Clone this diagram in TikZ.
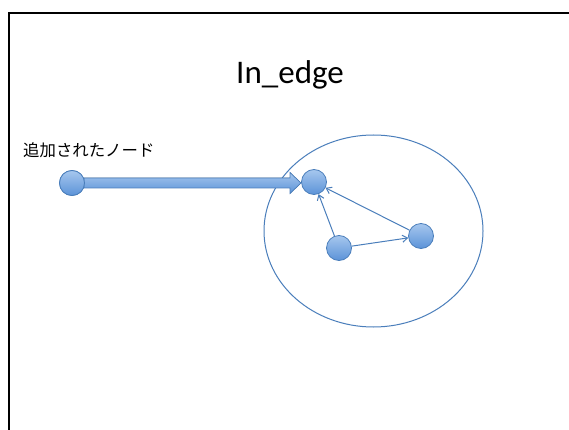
\documentclass[tikz,border=0pt]{standalone}
\usepackage{fontspec}
\setmainfont{Carlito}
\newfontfamily\jpfont{Noto Sans CJK JP}
\usetikzlibrary{arrows.meta,shapes.geometric}
\definecolor{lineblue}{HTML}{4A7EBB}
\definecolor{balltop}{HTML}{A7C7EE}
\definecolor{ballbot}{HTML}{5B93D8}
\tikzset{
  ball/.style={circle,minimum size=25pt,inner sep=0pt,draw=lineblue,line width=0.8pt,top color=balltop,bottom color=ballbot},
  thinarrow/.style={draw=lineblue,line width=1pt,-{Straight Barb[length=5pt,width=7pt]}},
}
\begin{document}
\begin{tikzpicture}[x=1pt,y=-1pt]
\useasboundingbox (0,0) rectangle (569,430);
\fill[white] (0,0) rectangle (569,430);
% slide frame
\coordinate (fr1) at (9,431);
\coordinate (fr2) at (9,13);
\coordinate (fr3) at (570,13);
\draw[black,line width=1.3pt] (fr1) -- (fr2) -- (fr3);
% title
\node (title) at (290,75) {\fontsize{33}{36}\selectfont In\_edge};
% label
\node[anchor=west,inner sep=0pt] (lbl) at (23,150) {\jpfont\fontsize{16.4}{19}\selectfont 追加されたノード};
% ellipse group
\node[ellipse,draw=lineblue,line width=1pt,minimum width=219pt,minimum height=192pt,inner sep=0pt] (grp) at (373.5,231) {};
% nodes
\node[ball] (a) at (72,183) {};
\node[ball] (t) at (314,182) {};
\node[ball] (b) at (339,248) {};
\node[ball] (r) at (421,236) {};
% thick arrow
\coordinate (tip) at (301,183);
\fill[top color=balltop,bottom color=ballbot,draw=lineblue,line width=0.7pt]
  (84,178) -- (290,178) -- (290,172.5) -- (tip) -- (290,193.5) -- (290,188) -- (84,188) -- cycle;
\node[ball] at (a) {};
% thin arrows
\draw[thinarrow] (b) -- (t);
\draw[thinarrow] (r) -- (t);
\draw[thinarrow] (b) -- (r);
\end{tikzpicture}
\end{document}
